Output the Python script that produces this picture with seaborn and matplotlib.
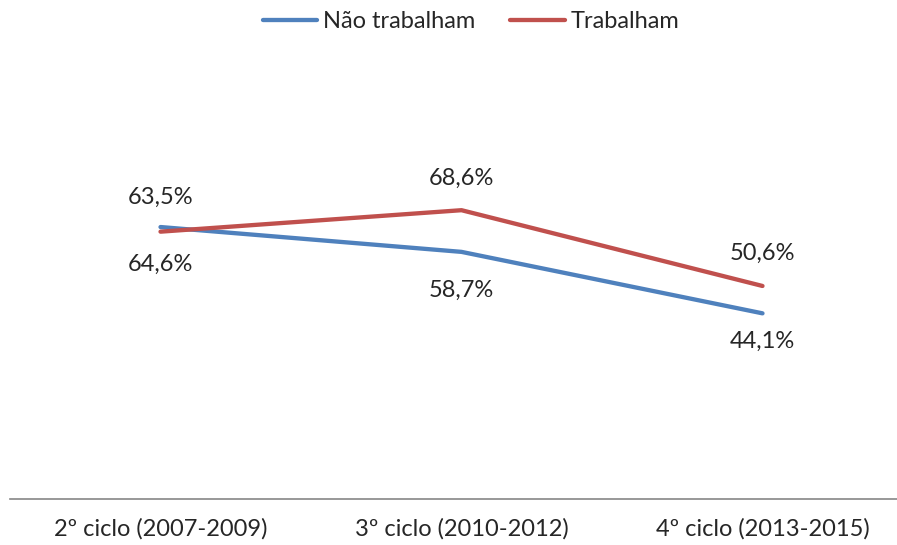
import matplotlib
matplotlib.use("Agg")
import matplotlib.pyplot as plt
import seaborn as sns
import pandas as pd

categories = ["2º ciclo (2007-2009)", "3º ciclo (2010-2012)", "4º ciclo (2013-2015)"]
nao_trabalham = [64.6, 58.7, 44.1]
trabalham = [63.5, 68.6, 50.6]
series_names = ["Não trabalham", "Trabalham"]
colors = ["#4F81BD", "#C0504D"]

# deslocamentos dos rótulos (pontos)
off_azul = [-26.6, -27.4, -20.2]
off_verm = [24.5, 23.0, 23.8]

df = pd.DataFrame({
    "ciclo": categories * 2,
    "valor": nao_trabalham + trabalham,
    "grupo": [series_names[0]] * 3 + [series_names[1]] * 3,
})
df["pos"] = list(range(3)) * 2

sns.set_style("white")
plt.rcParams["font.family"] = ["Lato", "DejaVu Sans"]

fig = plt.figure(figsize=(8.97, 5.45), dpi=100)
ax = fig.add_axes([10 / 897, 46 / 545, 903 / 897, 421 / 545])

sns.lineplot(data=df, x="pos", y="valor", hue="grupo", palette=colors,
             linewidth=3.1, ax=ax, legend=True)

for i, v in enumerate(nao_trabalham):
    ax.annotate(f"{v:.1f}%".replace(".", ","), (i, v), xytext=(0, off_azul[i]),
                textcoords="offset points", ha="center", va="center", fontsize=17)
for i, v in enumerate(trabalham):
    ax.annotate(f"{v:.1f}%".replace(".", ","), (i, v), xytext=(0, off_verm[i]),
                textcoords="offset points", ha="center", va="center", fontsize=17)

ax.set_xlim(-0.5, 2.5)
ax.set_ylim(0, 100)
ax.set_xticks(range(3))
ax.set_xticklabels(categories, fontsize=17)
ax.tick_params(axis="x", length=0, pad=14)
ax.set_yticks([])
ax.set_xlabel("")
ax.set_ylabel("")
for s in ["top", "left", "right"]:
    ax.spines[s].set_visible(False)
ax.spines["bottom"].set_color("#868686")
ax.spines["bottom"].set_linewidth(1.2)

sns.move_legend(ax, "upper center", bbox_to_anchor=(0.525, 1.018), bbox_transform=fig.transFigure,
                ncol=2, frameon=False, title=None, fontsize=17,
                handlelength=2.3, handletextpad=0.25, columnspacing=1.5)
for line in ax.get_legend().get_lines():
    line.set_linewidth(3.1)

fig.savefig("out.png", dpi=100)
